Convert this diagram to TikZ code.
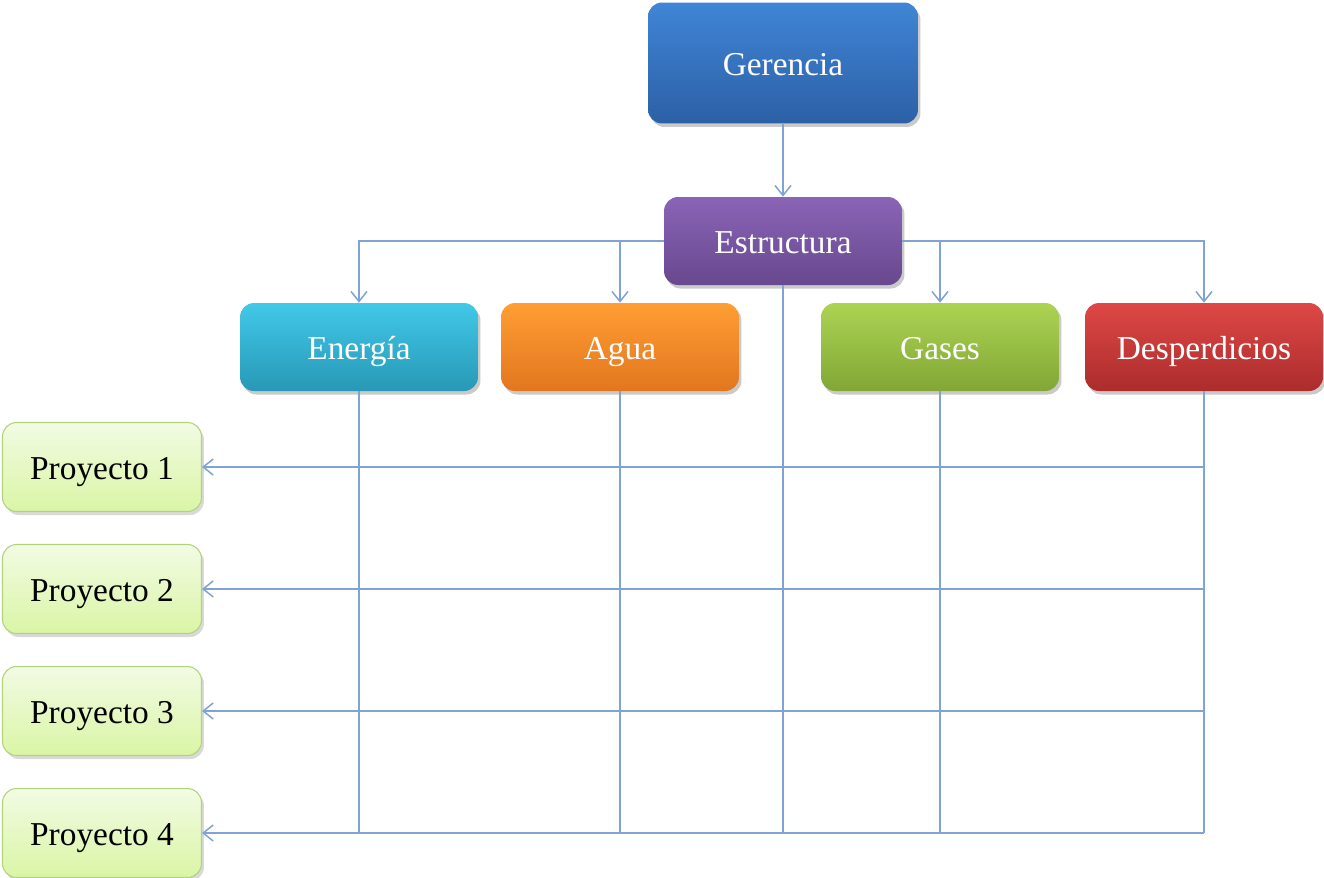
\documentclass[tikz,border=0pt]{standalone}
\usepackage{fontspec}
\setmainfont{Liberation Serif}
\usetikzlibrary{arrows.meta,shadows,shadings}
\definecolor{lineblue}{HTML}{7FA3D4}
\definecolor{projborder}{HTML}{B2D27C}
\tikzset{
  box/.style={rounded corners=0.28cm, minimum width=4.76cm, minimum height=1.76cm,
    font=\fontsize{19}{23}\selectfont, text=white, inner sep=0pt,
    text height=0.52cm, text depth=0.02cm,
    drop shadow={shadow xshift=0.05cm, shadow yshift=-0.07cm, opacity=0.35, fill=black!60}},
  proj/.style={rounded corners=0.28cm, minimum width=3.98cm, minimum height=1.78cm,
    font=\fontsize{19}{23}\selectfont, text=black, inner sep=0pt, draw=projborder, line width=0.6pt,
    text height=0.52cm, text depth=0.02cm,
    top color={rgb,255:red,242;green,251;blue,228}, bottom color={rgb,255:red,218;green,245;blue,165},
    drop shadow={shadow xshift=0.05cm, shadow yshift=-0.07cm, opacity=0.3, fill=black!50}},
  link/.style={draw=lineblue, line width=0.85pt},
  conn/.style={link, -{Straight Barb[length=0.2cm,width=0.32cm,line width=0.85pt]}}
}
\begin{document}
\begin{tikzpicture}[x=0.02cm,y=-0.02cm]
\useasboundingbox (0,0) rectangle (1324,877);
\node[box, minimum width=5.4cm, minimum height=2.42cm,
  top color={rgb,255:red,64;green,133;blue,214}, bottom color={rgb,255:red,44;green,96;blue,166}]
  (ger) at (783,63) {Gerencia};
\node[box, top color={rgb,255:red,138;green,100;blue,182}, bottom color={rgb,255:red,104;green,72;blue,142}]
  (est) at (783,241) {Estructura};
\node[box, top color={rgb,255:red,66;green,200;blue,232}, bottom color={rgb,255:red,40;green,152;blue,182}]
  (ene) at (359,347) {Energía};
\node[box, top color={rgb,255:red,255;green,158;blue,52}, bottom color={rgb,255:red,226;green,118;blue,30}]
  (agu) at (620,347) {Agua};
\node[box, top color={rgb,255:red,172;green,212;blue,82}, bottom color={rgb,255:red,130;green,166;blue,54}]
  (gas) at (940,347) {Gases};
\node[box, top color={rgb,255:red,222;green,72;blue,70}, bottom color={rgb,255:red,172;green,44;blue,44}]
  (des) at (1204,347) {Desperdicios};
\node[proj] (p1) at (102,467) {Proyecto 1};
\node[proj] (p2) at (102,589) {Proyecto 2};
\node[proj] (p3) at (102,711) {Proyecto 3};
\node[proj] (p4) at (102,833) {Proyecto 4};
% top connectors
\draw[conn] (ger) -- (est);
\draw[conn] (est.west) -| (ene.north);
\draw[conn] (est.west -| agu.north) -- (agu.north);
\draw[conn] (est.east) -| (des.north);
\draw[conn] (est.east -| gas.north) -- (gas.north);
% verticals
\draw[link] (ene.south) -- (ene.south |- p4.east);
\draw[link] (agu.south) -- (agu.south |- p4.east);
\draw[link] (est.south) -- (est.south |- p4.east);
\draw[link] (gas.south) -- (gas.south |- p4.east);
\draw[link] (des.south) -- (des.south |- p4.east);
% horizontals
\draw[conn] (des.south |- p1.east) -- (p1.east);
\draw[conn] (des.south |- p2.east) -- (p2.east);
\draw[conn] (des.south |- p3.east) -- (p3.east);
\draw[conn] (des.south |- p4.east) -- (p4.east);
\end{tikzpicture}
\end{document}
